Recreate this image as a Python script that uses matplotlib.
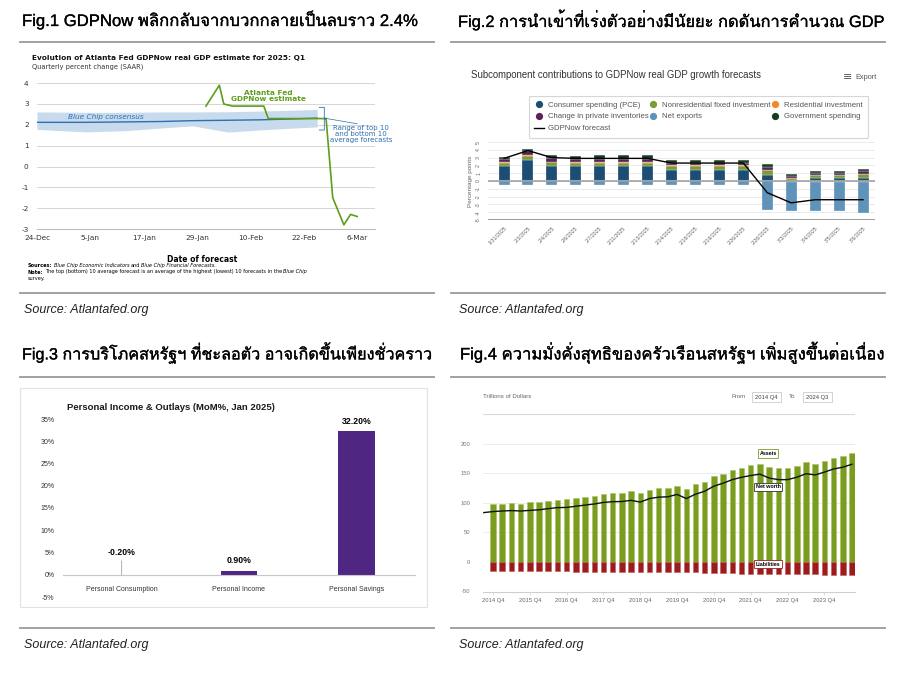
import matplotlib
matplotlib.use("Agg")
import matplotlib.pyplot as plt
import matplotlib.patheffects as pe
from matplotlib import font_manager
from matplotlib.ft2font import FT2Font
from matplotlib.lines import Line2D
from matplotlib.patches import Rectangle
from matplotlib.text import Annotation
import numpy as np

W, H = 900, 674

# ---------------------------------------------------------------- texts
FIG_TITLES = [
    "Fig.1 GDPNow พลิกกลับจากบวกกลายเป็นลบราว 2.4%",
    "Fig.2 การนำเข้าที่เร่งตัวอย่างมีนัยยะ กดดันการคำนวณ GDP",
    "Fig.3 การบริโภคสหรัฐฯ ที่ชะลอตัว อาจเกิดขึ้นเพียงชั่วคราว",
    "Fig.4 ความมั่งคั่งสุทธิของครัวเรือนสหรัฐฯ เพิ่มสูงขึ้นต่อเนื่อง",
]
SOURCE = "Source: Atlantafed.org"

# ---------------------------------------------------------------- fig 1 data
f1_tick_days = [0, 12, 24, 36, 48, 60, 72]
f1_tick_labels = ["24-Dec", "5-Jan", "17-Jan", "29-Jan", "10-Feb", "22-Feb", "6-Mar"]
bc_days = [0, 11, 20, 28, 35, 43, 50, 57, 63]
bc_upper = [2.62, 2.6, 2.6, 2.62, 2.62, 2.63, 2.66, 2.7, 2.74]
bc_lower = [1.78, 1.66, 1.72, 1.85, 1.95, 1.65, 1.75, 1.84, 1.9]
bc_mean = [2.12, 2.12, 2.14, 2.16, 2.2, 2.22, 2.24, 2.28, 2.32]
gdpnow_days = [38, 41, 42, 44, 51, 52, 65, 66.5, 69, 70.5, 72]
gdpnow_vals = [2.9, 3.9, 3.0, 2.9, 2.9, 2.3, 2.3, -1.5, -2.8, -2.3, -2.4]

# ---------------------------------------------------------------- fig 2 data
f2_dates = ["1/31/2025", "2/3/2025", "2/4/2025", "2/6/2025", "2/7/2025", "2/11/2025",
            "2/13/2025", "2/14/2025", "2/18/2025", "2/19/2025", "2/26/2025", "2/28/2025",
            "3/3/2025", "3/4/2025", "3/5/2025", "3/6/2025"]
pce = [1.9, 2.65, 1.95, 1.9, 1.9, 1.9, 1.9, 1.45, 1.45, 1.45, 1.45, 0.75, 0.1, 0.35, 0.35, 0.4]
nonres = [0.4, 0.6, 0.5, 0.45, 0.45, 0.45, 0.45, 0.5, 0.5, 0.5, 0.5, 0.6, 0.25, 0.4, 0.4, 0.5]
resid = [0.08, 0.1, 0.05, 0.1, 0.1, 0.1, 0.1, 0.05, 0.05, 0.05, 0.05, 0.0, -0.15, -0.15, -0.15, -0.15]
inventories = [0.4, 0.45, 0.45, 0.4, 0.4, 0.4, 0.4, 0.35, 0.35, 0.35, 0.35, 0.4, 0.3, 0.3, 0.3, 0.35]
gov = [0.35, 0.35, 0.4, 0.4, 0.45, 0.45, 0.45, 0.35, 0.35, 0.35, 0.35, 0.4, 0.3, 0.25, 0.25, 0.3]
net_exports = [-0.45] * 11 + [-3.7, -3.7, -3.7, -3.7, -3.9]
gdpnow_f2 = [2.9, 3.9, 3.0, 2.9, 2.9, 2.9, 2.9, 2.3, 2.3, 2.3, 2.3, -1.5, -2.8, -2.4, -2.4, -2.4]

# ---------------------------------------------------------------- fig 3 data
f3_cats = ["Personal Consumption", "Personal Income", "Personal Savings"]
f3_vals = [-0.2, 0.9, 32.2]

# ---------------------------------------------------------------- fig 4 data
f4_year_labels = ["2014 Q4", "2015 Q4", "2016 Q4", "2017 Q4", "2018 Q4",
                  "2019 Q4", "2020 Q4", "2021 Q4", "2022 Q4", "2023 Q4"]
assets = [97, 98, 99.5, 98, 100.5, 101, 103, 104.5, 105.5, 108,
          110, 111.7, 115, 116, 117, 119.5, 116, 121.7, 124.4, 125.6,
          129, 122.8, 131, 135, 144.4, 149, 155.5, 159.4, 164, 166,
          161, 158, 158.3, 162, 168, 166, 170.5, 176, 179.4, 184]
liabilities = [-15, -15, -15, -15.5, -15.5, -15.5, -16, -16, -16, -16.5,
               -16.5, -16.5, -17, -17, -17, -17, -17.5, -17.5, -17.5, -18,
               -18, -18, -18, -18.5, -19, -19.5, -19.5, -20, -20, -20.5,
               -20.5, -20.5, -21, -21, -21, -21, -21.5, -21.5, -22, -22]
# first point is 2014 Q3 (line starts at the left edge of the plot)
net_worth = [83.3, 85, 86, 86.7, 86, 87, 88, 90, 91.7, 92, 94,
             96, 97.8, 100.5, 101.7, 102, 104, 101, 107, 109.4, 110,
             114, 107, 114.4, 119.4, 128, 133, 139, 143, 146, 148.3,
             141.7, 139, 139, 143, 149, 147, 151.7, 157, 160, 165]


def _thai_font():
    for f in font_manager.fontManager.ttflist:
        try:
            if 0x0E01 in FT2Font(f.fname).get_charmap():
                return f.name
        except Exception:
            continue
    return None


THAI = _thai_font()
HEAD_FAMILY = ["Liberation Sans"] + ([THAI] if THAI else [])
plt.rcParams["font.family"] = ["Liberation Sans", "DejaVu Sans"]
plt.rcParams["axes.unicode_minus"] = False

fig = plt.figure(figsize=(W / 100, H / 100), dpi=100)
fig.patch.set_facecolor("white")
renderer = fig.canvas.get_renderer()

# overlay in pixel coordinates for headings, rules and frames
ov = fig.add_axes([0, 0, 1, 1], zorder=0)
ov.set_xlim(0, W)
ov.set_ylim(H, 0)
ov.axis("off")


def add_ax(x0, y0, x1, y1):
    a = fig.add_axes([x0 / W, 1 - y1 / H, (x1 - x0) / W, (y1 - y0) / H], zorder=2)
    a.patch.set_alpha(0)
    return a


# headings (scaled to the width they take in the page), rules and sources
heads = [((22, 20), 396), ((458, 20), 427), ((22, 353), 411), ((460, 353), 425)]
for ((tx, ty), width), title in zip(heads, FIG_TITLES):
    t = ov.text(tx, ty, title, fontsize=12, family=HEAD_FAMILY, color="#000000",
                va="center", ha="left")
    w_now = t.get_window_extent(renderer).width
    t.set_fontsize(12 * width / w_now)
    t.set_path_effects([pe.withStroke(linewidth=0.2, foreground="#000000")])
for x0, x1 in [(20, 434), (451, 885)]:
    for y in (42, 293, 377, 628):
        ov.plot([x0, x1], [y, y], color="#9a9a9a", lw=1.3)
for sx, sy in [(24, 310), (459, 310), (24, 645), (459, 645)]:
    ov.text(sx, sy, SOURCE, fontsize=9, style="italic", color="#222222", va="center")

# ================================================================ Fig 1
ov.text(32, 58, "Evolution of Atlanta Fed GDPNow real GDP estimate for 2025: Q1",
        fontsize=5.3, fontweight="bold", color="#111111", va="center", family="DejaVu Sans")
ov.text(32, 67, "Quarterly percent change (SAAR)", fontsize=4.8, color="#333333", va="center",
        family="DejaVu Sans")

ax1 = add_ax(37, 79, 375, 229)
ax1.set_xlim(0, 76)
ax1.set_ylim(-3, 4.2)
for v in range(-2, 5):
    ax1.axhline(v, color="#d6d6d6", lw=0.7, zorder=0)
for s in ("top", "right", "left"):
    ax1.spines[s].set_visible(False)
ax1.spines["bottom"].set_color("#bdbdbd")
ax1.spines["bottom"].set_linewidth(0.8)
ax1.fill_between(bc_days, bc_lower, bc_upper, color="#c7dbec", lw=0, zorder=1)
ax1.plot(bc_days, bc_mean, color="#2d6fb3", lw=1.0, zorder=2)
ax1.plot(gdpnow_days, gdpnow_vals, color="#5e9d1c", lw=1.2, zorder=3)
ax1.set_yticks(range(-3, 5))
ax1.set_xticks(f1_tick_days)
ax1.set_xticklabels(f1_tick_labels)
ax1.tick_params(axis="both", length=0, labelsize=5.3, colors="#333333")
ax1.tick_params(axis="y", pad=6)
ax1.tick_params(axis="x", pad=4)
for lab in ax1.get_xticklabels() + ax1.get_yticklabels():
    lab.set_family("DejaVu Sans")

ax1.text(7, 2.36, "Blue Chip consensus", fontsize=5.3, style="italic", color="#2d6fb3",
         va="center", family="DejaVu Sans")
ax1.text(52, 3.4, "Atlanta Fed\nGDPNow estimate", fontsize=5.3, fontweight="bold",
         color="#5e9d1c", ha="center", va="center", linespacing=1.05, family="DejaVu Sans")
# bracket for the range band
ax1.plot([63.5, 64.6, 64.6, 65.2, 64.6, 64.6, 63.5],
         [2.84, 2.84, 2.33, 2.3, 2.27, 1.75, 1.75], color="#2d6fb3", lw=0.6, zorder=3)
ax1.plot([65.2, 72.0], [2.3, 2.05], color="#2d6fb3", lw=0.5, zorder=3)
ax1.text(72.8, 1.55, "Range of top 10\nand bottom 10\naverage forecasts", fontsize=5,
         color="#2d6fb3", ha="center", va="center", linespacing=1.0, family="DejaVu Sans",
         clip_on=False)

ov.text(202, 259, "Date of forecast", fontsize=5.5, fontweight="bold", ha="center", va="center",
        family="DejaVu Sans")


def runs(x, y, parts, size=3.6):
    prev = ov.text(x, y, parts[0][0], fontsize=size, va="bottom", family="DejaVu Sans",
                   **parts[0][1])
    for s, kw in parts[1:]:
        ann = Annotation(s, xy=(1, 0), xycoords=prev, xytext=(0.9, 0),
                         textcoords="offset points", va="bottom", ha="left",
                         fontsize=size, family="DejaVu Sans", **kw)
        ov.add_artist(ann)
        prev = ann


runs(28, 268, [("Sources:", {"fontweight": "bold"}),
               ("Blue Chip Economic Indicators", {"style": "italic"}),
               ("and", {}),
               ("Blue Chip Financial Forecasts.", {"style": "italic"})])
runs(28, 274.5, [("Note:", {"fontweight": "bold"}),
                 ("The top (bottom) 10 average forecast is an average of the highest (lowest) "
                  "10 forecasts in the", {}),
                 ("Blue Chip", {"style": "italic"})])
runs(28, 281, [("survey.", {})])

# ================================================================ Fig 2
ov.text(471, 75, "Subcomponent contributions to GDPNow real GDP growth forecasts",
        fontsize=6.9, color="#333333", va="center")
ov.text(843, 77, "\u2261", fontsize=8, color="#555555", va="center", family="DejaVu Sans")
ov.text(855, 77.5, "Export", fontsize=5.3, color="#555555", va="center")

ax2 = add_ax(488, 142, 875, 220)
x2 = np.arange(len(f2_dates))
C_PCE, C_NON, C_RES, C_INV, C_NX, C_GOV = ("#1c4e74", "#7c9a3a", "#f0892a",
                                             "#5c2159", "#5f93b9", "#143d25")
components = [(pce, C_PCE), (nonres, C_NON), (resid, C_RES),
              (inventories, C_INV), (gov, C_GOV), (net_exports, C_NX)]
pos_b = np.zeros(len(x2))
neg_b = np.zeros(len(x2))
for vals, col in components:
    v = np.array(vals, dtype=float)
    pos = np.where(v > 0, v, 0)
    neg = np.where(v < 0, v, 0)
    ax2.bar(x2, pos, bottom=pos_b, width=0.46, color=col, edgecolor="white", lw=0.2, zorder=2)
    ax2.bar(x2, neg, bottom=neg_b, width=0.46, color=col, edgecolor="white", lw=0.2, zorder=2)
    pos_b += pos
    neg_b += neg
ax2.plot(x2, gdpnow_f2, color="black", lw=1.0, zorder=4)
ax2.set_xlim(-0.67, 15.5)
ax2.set_ylim(-5, 5)
for v in range(-4, 6):
    ax2.axhline(v, color="#e6e6e6", lw=0.6, zorder=0)
ax2.axhline(0, color="#9a9a9a", lw=1.1, zorder=3)
ax2.axhline(-5, color="#9a9a9a", lw=1.4, zorder=3)
for s in ax2.spines.values():
    s.set_visible(False)
ax2.set_yticks(range(-5, 6))
ax2.set_xticks(x2)
ax2.set_xticklabels(f2_dates, rotation=45, ha="right", rotation_mode="anchor")
ax2.tick_params(axis="both", length=0, labelsize=3.8, colors="#666666")
ax2.tick_params(axis="x", pad=4)
ax2.tick_params(axis="y", pad=5)
for lab in ax2.get_yticklabels():
    lab.set_rotation(90)
    lab.set_va("center")
ax2.set_ylabel("Percentage points", fontsize=4.6, color="#666666", labelpad=2)

leg_handles = [
    Line2D([], [], ls="", marker="o", ms=4.2, color=C_PCE, label="Consumer spending (PCE)"),
    Line2D([], [], ls="", marker="o", ms=4.2, color=C_INV, label="Change in private inventories"),
    Line2D([], [], color="black", lw=1.0, label="GDPNow forecast"),
    Line2D([], [], ls="", marker="o", ms=4.2, color=C_NON, label="Nonresidential fixed investment"),
    Line2D([], [], ls="", marker="o", ms=4.2, color=C_NX, label="Net exports"),
    Line2D([], [], ls="", marker="o", ms=4.2, color=C_RES, label="Residential investment"),
    Line2D([], [], ls="", marker="o", ms=4.2, color=C_GOV, label="Government spending"),
]
leg = fig.legend(handles=leg_handles, ncol=3, loc="upper left",
                 bbox_to_anchor=(525 / W, 1 - 133 / H, (872 - 525) / W, (133 - 92) / H),
                 mode="expand", fontsize=5.6, frameon=True, fancybox=True,
                 edgecolor="#cccccc", handlelength=1.3, handletextpad=0.5,
                 labelspacing=0.55, borderpad=0.7, labelcolor="#555555")
leg.get_frame().set_linewidth(0.8)

# ================================================================ Fig 3
ov.add_patch(Rectangle((20, 388), 407, 219, fill=False, ec="#e2e2e2", lw=0.8))
ov.text(67, 407, "Personal Income & Outlays (MoM%, Jan 2025)", fontsize=6.8, fontweight="bold",
        color="#1a1a1a", va="center", family=["Liberation Sans Narrow", "Liberation Sans"])

ax3 = add_ax(63, 419, 415, 597)
ax3.set_xlim(-0.5, 2.5)
ax3.set_ylim(-5, 35)
bar_cols = ["#b9acd8" if v < 0 else "#4f2782" for v in f3_vals]
ax3.bar(range(len(f3_cats)), f3_vals, width=0.31, color=bar_cols, zorder=2)
for s in ("top", "right", "left"):
    ax3.spines[s].set_visible(False)
ax3.spines["bottom"].set_position(("data", 0))
ax3.spines["bottom"].set_color("#c8c8c8")
ax3.spines["bottom"].set_linewidth(0.8)
ax3.set_yticks(range(-5, 40, 5))
ax3.set_yticklabels([f"{v}%" for v in range(-5, 40, 5)])
ax3.set_xticks(range(len(f3_cats)))
ax3.set_xticklabels(f3_cats)
ax3.tick_params(axis="both", length=0, labelsize=5, colors="#333333")
ax3.tick_params(axis="x", pad=8)
ax3.tick_params(axis="y", pad=6)
for i, v in enumerate(f3_vals):
    label = f"{v:.2f}%"
    if v < 0:
        ax3.annotate(label, xy=(i, 0), xytext=(0, 13), textcoords="offset points",
                     ha="center", va="bottom", fontsize=6.3, fontweight="bold",
                     arrowprops=dict(arrowstyle="-", color="#a0a0a0", lw=0.6,
                                     shrinkA=1, shrinkB=0))
    else:
        ax3.annotate(label, xy=(i, v), xytext=(0, 4), textcoords="offset points",
                     ha="center", va="bottom", fontsize=6.3, fontweight="bold")

# ================================================================ Fig 4
ov.text(483, 397, "Trillions of Dollars", fontsize=4.4, color="#666666", va="center")
ov.text(746, 397, "From", fontsize=4.4, color="#666666", va="center", ha="right")
ov.text(766.5, 397, "2014 Q4", fontsize=4.2, color="#444444", va="center", ha="center",
        bbox=dict(boxstyle="square,pad=0.5", fc="white", ec="#cccccc", lw=0.6))
ov.text(795, 397, "To", fontsize=4.4, color="#666666", va="center", ha="right")
ov.text(817.5, 397, "2024 Q3", fontsize=4.2, color="#444444", va="center", ha="center",
        bbox=dict(boxstyle="square,pad=0.5", fc="white", ec="#cccccc", lw=0.6))

ax4 = add_ax(483, 414, 855, 592)
x4 = np.arange(len(assets))
ax4.bar(x4, assets, width=0.6, color="#7a9d1f", edgecolor="#a9c462", lw=0.4, zorder=2)
ax4.bar(x4, liabilities, width=0.6, color="#9b1b1f", edgecolor="#c45a5d", lw=0.4, zorder=2)
ax4.plot(np.arange(-1, len(assets)), net_worth, color="#111111", lw=1.0, zorder=3)
ax4.set_xlim(-1.09, 39.33)
ax4.set_ylim(-51, 250)
for v in (50, 100, 150, 200):
    ax4.axhline(v, color="#ececec", lw=0.7, zorder=0)
ax4.axhline(250, color="#d8d8d8", lw=0.8, zorder=0)
for s in ("top", "right", "left"):
    ax4.spines[s].set_visible(False)
ax4.spines["bottom"].set_color("#cfcfcf")
ax4.spines["bottom"].set_linewidth(0.8)
ax4.set_yticks([-50, 0, 50, 100, 150, 200])
ax4.set_yticklabels(["-50", "0", "50", "100", "150", "200"])
ax4.set_xticks(np.arange(0, len(assets), 4))
ax4.set_xticklabels(f4_year_labels)
ax4.tick_params(axis="y", length=0, labelsize=4.2, colors="#777777", pad=9)
ax4.tick_params(axis="x", length=2, width=0.5, color="#cfcfcf", labelsize=4.2,
                labelcolor="#666666", pad=2)
ax4.text(29.9, 183, "Assets", fontsize=3.9, fontweight="bold", ha="center", va="center",
         zorder=5, bbox=dict(boxstyle="square,pad=0.3", fc="white", ec="#7a9d1f", lw=0.6))
ax4.text(29.9, 127, "Net worth", fontsize=3.9, fontweight="bold", ha="center", va="center",
         zorder=5, bbox=dict(boxstyle="square,pad=0.3", fc="white", ec="#333333", lw=0.6))
ax4.text(29.9, -4, "Liabilities", fontsize=3.9, fontweight="bold", ha="center", va="center",
         zorder=5, bbox=dict(boxstyle="square,pad=0.3", fc="white", ec="#9b1b1f", lw=0.6))

fig.savefig("out.png", dpi=100)
